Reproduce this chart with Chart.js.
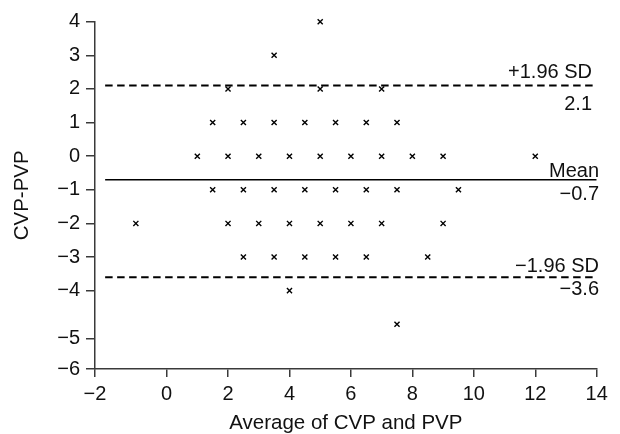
<!DOCTYPE html>
<html>
<head>
<meta charset="utf-8">
<script src="https://cdn.jsdelivr.net/npm/chart.js@4/dist/chart.umd.min.js"></script>
<style>
  html, body { margin: 0; padding: 0; background: #fff; }
  canvas { display: block; }
</style>
</head>
<body>
<canvas id="baChart" width="620" height="434"></canvas>
<script>
// Bland-Altman points: average of CVP and PVP vs difference
const avgValues = [
    5,
    3.5,
    2, 5, 7,
    1.5, 2.5, 3.5, 4.5, 5.5, 6.5, 7.5,
    1, 2, 3, 4, 5, 6, 7, 8, 9, 12,
    1.5, 2.5, 3.5, 4.5, 5.5, 6.5, 7.5, 9.5,
    -1, 2, 3, 4, 5, 6, 7, 9,
    2.5, 3.5, 4.5, 5.5, 6.5, 8.5,
    4,
    7.5
];
const diffValues = [
    4,
    3,
    2, 2, 2,
    1, 1, 1, 1, 1, 1, 1,
    0, 0, 0, 0, 0, 0, 0, 0, 0, 0,
    -1, -1, -1, -1, -1, -1, -1, -1,
    -2, -2, -2, -2, -2, -2, -2, -2,
    -3, -3, -3, -3, -3, -3,
    -4,
    -5
];

// mean and limits of agreement
const meanDiff = -0.7;
const upperLimit = 2.1;
const lowerLimit = -3.6;
const lineStartX = -2;
const lineEndX = 14;

// axis ticks (the original axes are broken at -2 and -5)
const xTickValues = [-2.33, 0, 2, 4, 6, 8, 10, 12, 14];
const xTickLabels = ['\u22122', '0', '2', '4', '6', '8', '10', '12', '14'];
const yTickValues = [4, 3, 2, 1, 0, -1, -2, -3, -4, -5.42, -6.33];
const yTickLabels = ['4', '3', '2', '1', '0', '\u22121', '\u22122', '\u22123', '\u22124', '\u22125', '\u22126'];

const lineLabels = [
    { value: upperLimit, top: '+1.96 SD', bottom: '2.1', right: 592, up: -8, down: 24 },
    { value: meanDiff, top: 'Mean', bottom: '\u22120.7', right: 599, up: -3, down: 20 },
    { value: lowerLimit, top: '\u22121.96 SD', bottom: '\u22123.6', right: 599, up: -5, down: 18 }
];

const FONT = "'Liberation Sans', Arial, sans-serif";
const AXIS_COLOR = '#3a3a3a';

function hLine(y) {
    return [{ x: lineStartX, y: y }, { x: lineEndX, y: y }];
}

const labelPlugin = {
    id: 'lineLabels',
    afterDraw(chart) {
        const ctx = chart.ctx;
        const yScale = chart.scales.y;
        ctx.save();
        ctx.fillStyle = '#111';
        ctx.font = '20px ' + FONT;
        ctx.textAlign = 'right';
        ctx.textBaseline = 'alphabetic';
        lineLabels.forEach(l => {
            const py = yScale.getPixelForValue(l.value);
            ctx.fillText(l.top, l.right, py + l.up);
            ctx.fillText(l.bottom, l.right, py + l.down);
        });
        ctx.restore();
    }
};

const points = avgValues.map((x, i) => ({ x: x, y: diffValues[i] }));

new Chart(document.getElementById('baChart').getContext('2d'), {
    type: 'scatter',
    data: {
        datasets: [
            {
                label: 'Difference',
                data: points,
                clip: false,
                pointStyle: 'crossRot',
                pointRadius: 3.6,
                borderColor: '#000',
                backgroundColor: '#000',
                borderWidth: 1.4
            },
            {
                label: 'Mean',
                data: hLine(meanDiff),
                showLine: true,
                pointRadius: 0,
                borderColor: '#000',
                borderWidth: 1.6
            },
            {
                label: '+1.96 SD',
                data: hLine(upperLimit),
                showLine: true,
                pointRadius: 0,
                borderColor: '#000',
                borderWidth: 2,
                borderDash: [7.5, 4.5]
            },
            {
                label: '-1.96 SD',
                data: hLine(lowerLimit),
                showLine: true,
                pointRadius: 0,
                borderColor: '#000',
                borderWidth: 2,
                borderDash: [7.5, 4.5]
            }
        ]
    },
    options: {
        responsive: false,
        animation: false,
        layout: { padding: { top: 21.7, right: 23.3, left: 0, bottom: 0 } },
        plugins: {
            legend: { display: false },
            tooltip: { enabled: false }
        },
        scales: {
            x: {
                type: 'linear',
                min: -2.33,
                max: 14,
                afterFit: s => { s.height = 65; },
                afterBuildTicks: s => { s.ticks = xTickValues.map(v => ({ value: v })); },
                border: { display: true, color: AXIS_COLOR, width: 1.5 },
                grid: { drawOnChartArea: false, drawTicks: true, tickLength: 8, color: AXIS_COLOR, lineWidth: 1.5 },
                ticks: {
                    autoSkip: false,
                    maxRotation: 0,
                    padding: 5,
                    color: '#111',
                    font: { family: FONT, size: 20 },
                    callback: (v, i) => xTickLabels[i]
                },
                title: {
                    display: true,
                    text: 'Average of CVP and PVP',
                    color: '#111',
                    font: { family: FONT, size: 20.5, lineHeight: 1 },
                    padding: { top: 0, bottom: 0 }
                }
            },
            y: {
                type: 'linear',
                min: -6.33,
                max: 4,
                afterFit: s => { s.width = 95; },
                afterBuildTicks: s => { s.ticks = yTickValues.map(v => ({ value: v })); },
                border: { display: true, color: AXIS_COLOR, width: 1.5 },
                grid: { drawOnChartArea: false, drawTicks: true, tickLength: 9, color: AXIS_COLOR, lineWidth: 1.5 },
                ticks: {
                    autoSkip: false,
                    padding: 6,
                    color: '#111',
                    font: { family: FONT, size: 20 },
                    callback: (v, i) => yTickLabels[i]
                },
                title: {
                    display: true,
                    text: 'CVP-PVP',
                    color: '#111',
                    font: { family: FONT, size: 20.5, lineHeight: 1.2 },
                    padding: { top: 10, bottom: 0 }
                }
            }
        }
    },
    plugins: [labelPlugin]
});
</script>
</body>
</html>
